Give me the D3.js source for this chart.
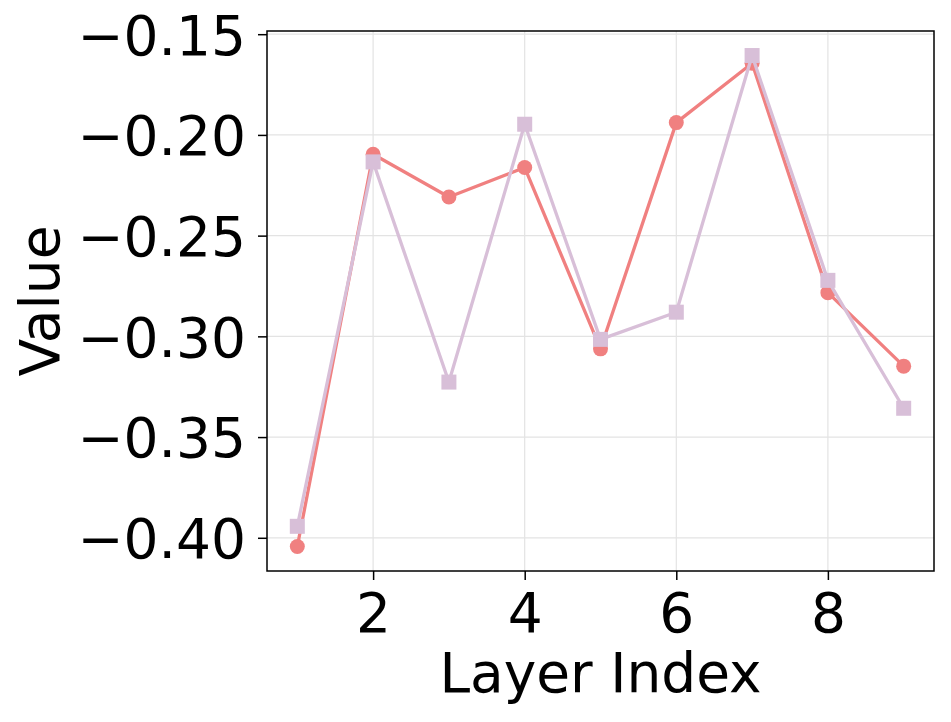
<!DOCTYPE html>
<html>
<head>
<meta charset="utf-8">
<script src="https://cdn.jsdelivr.net/npm/d3@7"></script>
<style>
  body { margin: 0; background: #fff; }
  svg text { font-family: "DejaVu Sans", sans-serif; fill: #000; }
</style>
</head>
<body>
<script>
// data
const layers = [1, 2, 3, 4, 5, 6, 7, 8, 9];
const seriesA = [-0.4043, -0.2096, -0.2308, -0.2162, -0.3062, -0.1939, -0.1644, -0.2783, -0.3148];
const seriesB = [-0.3943, -0.2134, -0.3227, -0.1947, -0.3015, -0.2880, -0.1606, -0.2722, -0.3357];
const xTicks = [2, 4, 6, 8];
const yTicks = [-0.40, -0.35, -0.30, -0.25, -0.20, -0.15];

const w = 951, h = 722;
const margin = {left: 267, right: 17, top: 31, bottom: 151};
const fontSize = 55;

const svg = d3.select("body").append("svg")
    .attr("width", w)
    .attr("height", h);

// matplotlib-like 5% padding on both axes
const xr = d3.extent(layers), xpad = (xr[1] - xr[0]) * 0.05;
const allY = seriesA.concat(seriesB);
const yr = d3.extent(allY), ypad = (yr[1] - yr[0]) * 0.05;

const xScale = d3.scaleLinear()
    .domain([xr[0] - xpad, xr[1] + xpad])
    .range([margin.left, w - margin.right]);
const yScale = d3.scaleLinear()
    .domain([yr[0] - ypad, yr[1] + ypad])
    .range([h - margin.bottom, margin.top]);

// grid
const grid = svg.append("g").attr("class", "grid");
grid.selectAll("line.gx").data(xTicks).enter().append("line")
    .attr("x1", d => xScale(d)).attr("x2", d => xScale(d))
    .attr("y1", margin.top).attr("y2", h - margin.bottom)
    .attr("stroke", "#e3e3e3").attr("stroke-width", 1.2);
grid.selectAll("line.gy").data(yTicks).enter().append("line")
    .attr("y1", d => yScale(d)).attr("y2", d => yScale(d))
    .attr("x1", margin.left).attr("x2", w - margin.right)
    .attr("stroke", "#e3e3e3").attr("stroke-width", 1.2);

// axes
const fmt = d => (d < 0 ? "\u2212" : "") + Math.abs(d).toFixed(2);
const xAxis = d3.axisBottom(xScale).tickValues(xTicks).tickSize(9).tickPadding(10).tickFormat(d3.format("d"));
const yAxis = d3.axisLeft(yScale).tickValues(yTicks).tickSize(9).tickPadding(12).tickFormat(fmt);

const gx = svg.append("g")
    .attr("transform", "translate(0," + (h - margin.bottom) + ")")
    .call(xAxis);
const gy = svg.append("g")
    .attr("transform", "translate(" + margin.left + ",0)")
    .call(yAxis);
[gx, gy].forEach(g => {
    g.select(".domain").remove();
    g.selectAll(".tick line").attr("stroke", "#000").attr("stroke-width", 1.5);
    g.selectAll(".tick text").style("font-size", fontSize + "px").attr("fill", "#000");
});
gx.selectAll(".tick text").attr("dy", "0.76em");
gy.selectAll(".tick text").attr("dy", "0.36em");

// series
const line = d3.line()
    .x((d, i) => xScale(layers[i]))
    .y(d => yScale(d));

function drawSeries(vals, color, shape) {
    svg.append("path")
        .datum(vals)
        .attr("d", line)
        .attr("fill", "none")
        .attr("stroke", color)
        .attr("stroke-width", 3.3)
        .attr("stroke-linejoin", "round");
    if (shape === "circle") {
        svg.selectAll(null).data(vals).enter().append("circle")
            .attr("cx", (d, i) => xScale(layers[i]))
            .attr("cy", d => yScale(d))
            .attr("r", 7.5)
            .attr("fill", color);
    } else {
        const s = 15;
        svg.selectAll(null).data(vals).enter().append("rect")
            .attr("x", (d, i) => xScale(layers[i]) - s / 2)
            .attr("y", d => yScale(d) - s / 2)
            .attr("width", s).attr("height", s)
            .attr("fill", color);
    }
}
drawSeries(seriesA, "#f08080", "circle");
drawSeries(seriesB, "#d8bfd8", "square");

// frame
svg.append("rect")
    .attr("x", margin.left).attr("y", margin.top)
    .attr("width", w - margin.left - margin.right)
    .attr("height", h - margin.top - margin.bottom)
    .attr("fill", "none").attr("stroke", "#000").attr("stroke-width", 1.5);

// labels
svg.append("text")
    .attr("x", (margin.left + w - margin.right) / 2)
    .attr("y", 692)
    .attr("text-anchor", "middle")
    .style("font-size", fontSize + "px")
    .text("Layer Index");
svg.append("text")
    .attr("transform", "translate(59," + (margin.top + h - margin.bottom) / 2 + ") rotate(-90)")
    .attr("text-anchor", "middle")
    .style("font-size", fontSize + "px")
    .text("Value");
</script>
</body>
</html>
